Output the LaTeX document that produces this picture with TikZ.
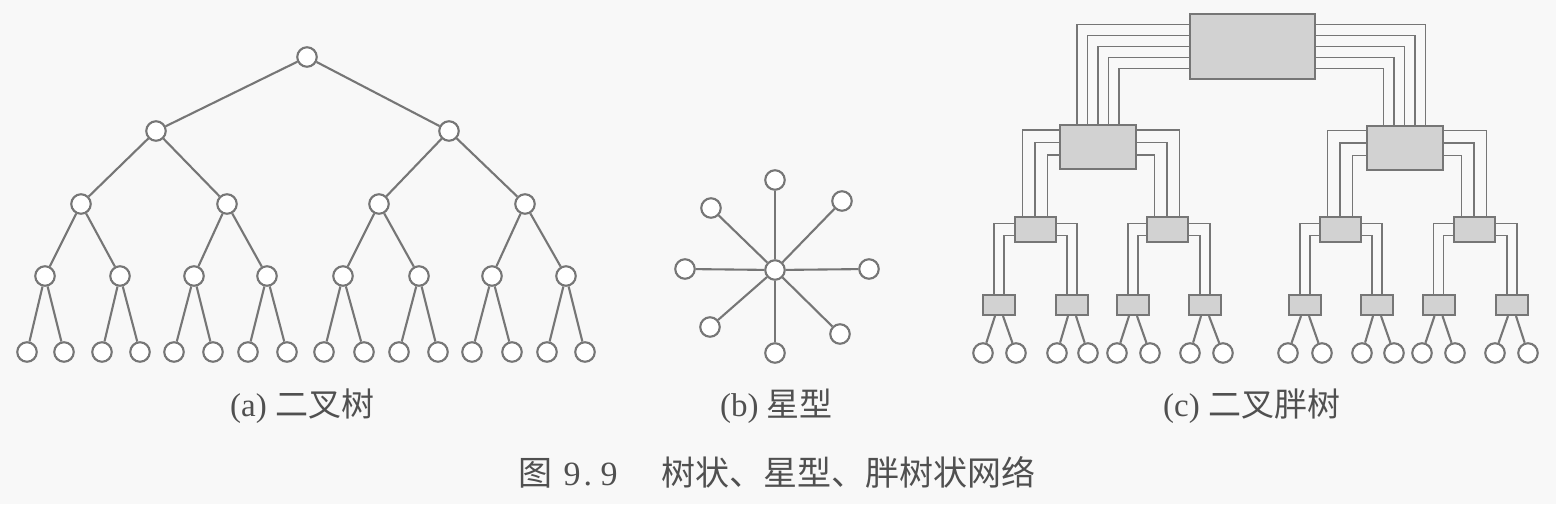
\documentclass[tikz,border=0pt]{standalone}
\usepackage{fontspec}
\setmainfont{Liberation Serif}
\newfontfamily\cjk{Noto Sans CJK SC}
\usetikzlibrary{calc}
\definecolor{lc}{HTML}{767676}
\definecolor{bf}{HTML}{D2D2D2}
\definecolor{tc}{HTML}{505050}
\definecolor{bg}{HTML}{F8F8F8}
\begin{document}
\begin{tikzpicture}[x=1pt,y=-1pt,
  circ/.style={circle,draw=lc,line width=2.1pt,fill=white,minimum size=19.5pt,inner sep=0pt},
  lnk/.style={draw=lc,line width=2.1pt},
  wire/.style={draw=lc,line width=1.9pt},
  sw/.style={rectangle,draw=lc,line width=2pt,fill=bf,inner sep=0pt},
  captext/.style={anchor=base west,inner sep=0pt,text=tc,font=\fontsize{33}{40}\selectfont}]
\fill[bg] (0,0) rectangle (1556,504);
\useasboundingbox (0,0) rectangle (1556,504);

% ---------- (a) binary tree ----------
\node[circ] (r) at (307,57) {};
\node[circ] (a1) at (156,131) {};
\node[circ] (a2) at (449,131) {};
\foreach \x [count=\i] in {81,227,379,525} \node[circ] (b\i) at (\x,204) {};
\foreach \x [count=\i] in {45,120,194,267,343,419,492,566} \node[circ] (c\i) at (\x,276) {};
\foreach \x [count=\i] in {27,64,102,140,174,213,248,287,324,364,399,438,472,512,547,585} \node[circ] (d\i) at (\x,352) {};
\draw[lnk] (r)--(a1) (r)--(a2) (a1)--(b1) (a1)--(b2) (a2)--(b3) (a2)--(b4);
\foreach \i in {1,...,4} {
  \pgfmathtruncatemacro\j{2*\i-1}\pgfmathtruncatemacro\k{2*\i}
  \draw[lnk] (b\i)--(c\j) (b\i)--(c\k);
}
\foreach \i in {1,...,8} {
  \pgfmathtruncatemacro\j{2*\i-1}\pgfmathtruncatemacro\k{2*\i}
  \draw[lnk] (c\i)--(d\j) (c\i)--(d\k);
}

% ---------- (b) star ----------
\node[circ] (s0) at (775,270) {};
\node[circ] (s1) at (775,180) {};
\node[circ] (s2) at (842,201) {};
\node[circ] (s3) at (869,269) {};
\node[circ] (s4) at (840,334) {};
\node[circ] (s5) at (775,353) {};
\node[circ] (s6) at (710,327) {};
\node[circ] (s7) at (685,269) {};
\node[circ] (s8) at (711,208) {};
\foreach \i in {1,...,8} \draw[lnk] (s0)--(s\i);

% ---------- (c) fat tree ----------
\node[sw,minimum width=125pt,minimum height=65pt] (T) at (1252.5,46.5) {};
\node[sw,minimum width=76pt,minimum height=44pt] (M1) at (1098,147) {};
\node[sw,minimum width=76pt,minimum height=44pt] (M2) at (1404.5,147.5) {};
\foreach \x [count=\i] in {1035,1167,1340,1474} \node[sw,minimum width=41pt,minimum height=25pt] (L\i) at (\x,229.5) {};
\foreach \x [count=\i] in {999,1072,1133,1205,1305,1377,1438.5,1512} \node[sw,minimum width=32pt,minimum height=20pt] (K\i) at (\x,305) {};
\foreach \x [count=\i] in {983,1016,1057,1088,1117,1150,1190,1223,1288,1322,1362,1394,1422,1455,1495,1528} \node[circ] (f\i) at (\x,353) {};

\foreach \i in {0,...,4} {
  \draw[wire] ($(T.west)+(0,-22+11*\i)$) -| ($(M1.north)+(-21+10.5*\i,0)$);
  \draw[wire] ($(T.east)+(0,-22+11*\i)$) -| ($(M2.north)+(21-10.5*\i,0)$);
}
\foreach \m/\l/\r in {M1/L1/L2, M2/L3/L4} {
  \foreach \i in {0,1,2} {
    \draw[wire] ($(\m.west)+(0,-17+12.5*\i)$) -| ($(\l.north)+(-12.5+12.5*\i,0)$);
    \draw[wire] ($(\m.east)+(0,-17+12.5*\i)$) -| ($(\r.north)+(12.5-12.5*\i,0)$);
  }
}
\foreach \l/\a/\b in {L1/K1/K2, L2/K3/K4, L3/K5/K6, L4/K7/K8} {
  \foreach \i in {0,1} {
    \draw[wire] ($(\l.west)+(0,-6+12*\i)$) -| ($(\a.north)+(-5+10*\i,0)$);
    \draw[wire] ($(\l.east)+(0,-6+12*\i)$) -| ($(\b.north)+(5-10*\i,0)$);
  }
}
\foreach \k in {1,...,8} {
  \pgfmathtruncatemacro\p{2*\k-1}\pgfmathtruncatemacro\q{2*\k}
  \draw[lnk] ($(K\k.south)+(-4,0)$) -- (f\p);
  \draw[lnk] ($(K\k.south)+(4,0)$) -- (f\q);
}

% ---------- captions ----------
\node[captext] (capa) at (230,416) {(a) {\cjk 二叉树}};
\node[captext] (capb) at (720,416) {(b) {\cjk 星型}};
\node[captext] (capc) at (1163,416) {(c) {\cjk 二叉胖树}};
\node[captext,font=\fontsize{34}{40}\selectfont] (capm) at (518,485) {{\cjk 图}\hspace{11.5pt}9\hspace{3pt}.\hspace{8.5pt}9\hspace{44pt}{\cjk 树状、星型、胖树状网络}};
\end{tikzpicture}
\end{document}
